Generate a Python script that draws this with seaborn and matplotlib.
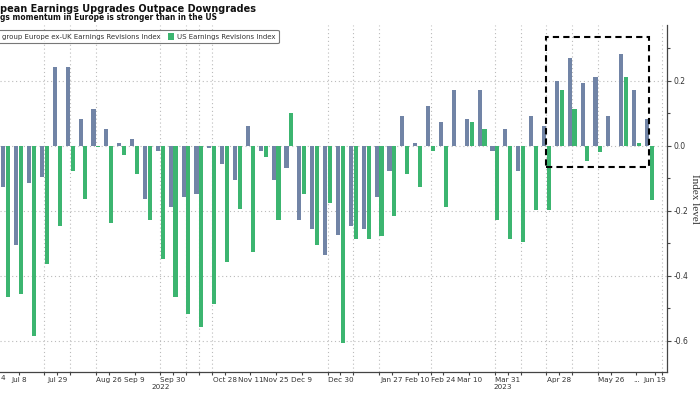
import numpy as np
import pandas as pd
import matplotlib
matplotlib.use("Agg")
import matplotlib.pyplot as plt
import matplotlib.transforms as mtransforms
from matplotlib.patches import Rectangle
import seaborn as sns

# ── Data (weekly from 1 Jul 2022) ────────────────────────────────────────────
weeks = pd.date_range("2022-07-01", periods=51, freq="7D")

europe = [
    -0.126, -0.306, -0.116, -0.095, 0.241, 0.241, 0.081, 0.112, 0.052, 0.010,
    0.022, -0.165, -0.016, -0.188, -0.157, -0.147, -0.006, -0.057, -0.106, 0.062,
    -0.016, -0.106, -0.067, -0.227, -0.256, -0.336, -0.276, -0.246, -0.256, -0.157,
    -0.077, 0.091, 0.010, 0.122, 0.072, 0.171, 0.081, 0.171, -0.016, 0.052,
    -0.077, 0.091, 0.062, 0.200, 0.271, 0.192, 0.211, 0.091, 0.281, 0.171,
    0.081,
]
us = [
    -0.465, -0.457, -0.586, -0.365, -0.246, -0.077, -0.165, -0.005, -0.237, -0.027,
    -0.087, -0.227, -0.347, -0.466, -0.518, -0.557, -0.487, -0.357, -0.196, -0.326,
    -0.036, -0.227, 0.102, -0.147, -0.306, -0.177, -0.606, -0.287, -0.287, -0.277,
    -0.216, -0.087, -0.126, -0.016, -0.188, 0.0, 0.072, 0.052, -0.227, -0.287,
    -0.295, -0.198, -0.198, 0.171, 0.112, -0.047, -0.018, 0.0, 0.211, 0.010,
    -0.167,
]

series_names = ["group Europe ex-UK Earnings Revisions Index", "US Earnings Revisions Index"]
colours = ["#7184A6", "#3CB570"]

tick_dates  = ["2022-07-08", "2022-07-29", "2022-08-26", "2022-09-09", "2022-09-30",
               "2022-10-28", "2022-11-11", "2022-11-25", "2022-12-09", "2022-12-30",
               "2023-01-27", "2023-02-10", "2023-02-24", "2023-03-10", "2023-03-31",
               "2023-04-28", "2023-05-26", "2023-06-09", "2023-06-19"]
tick_labels = ["Jul 8", "Jul 29", "Aug 26", "Sep 9", "Sep 30",
               "Oct 28", "Nov 11", "Nov 25", "Dec 9", "Dec 30",
               "Jan 27", "Feb 10", "Feb 24", "Mar 10", "Mar 31",
               "Apr 28", "May 26", "...", "Jun 19"]
grid_dates = ["2022-07-08", "2022-07-22", "2022-07-29", "2022-08-05", "2022-08-19",
              "2022-08-26", "2022-09-09", "2022-09-23", "2022-09-30", "2022-10-07",
              "2022-10-14", "2022-10-21", "2022-10-28", "2022-11-11", "2022-11-25",
              "2022-12-09", "2022-12-23", "2022-12-30", "2023-01-06", "2023-01-20",
              "2023-01-27", "2023-02-10", "2023-02-17", "2023-02-24", "2023-03-10",
              "2023-03-24", "2023-03-31", "2023-04-07", "2023-04-21", "2023-04-28",
              "2023-05-05", "2023-05-19", "2023-05-26", "2023-06-09", "2023-06-23"]

df = pd.DataFrame({
    "week": np.tile(weeks.strftime("%Y-%m-%d"), 2),
    "value": europe + us,
    "series": np.repeat(series_names, len(weeks)),
})

def pos(d):
    return (pd.Timestamp(d) - weeks[0]).days / 7

# ── Plot ──────────────────────────────────────────────────────────────────────
sns.set_style("white")
plt.rcParams["font.family"] = ["DejaVu Sans"]

fig = plt.figure(figsize=(7, 3.94), dpi=100)
ax = fig.add_axes([0, 0.055, 667 / 700, 0.881])

sns.barplot(data=df, x="week", y="value", hue="series", palette=colours,
            saturation=1, width=0.75, gap=0.15, linewidth=0, ax=ax)

ax.set_xlim(-0.45, 51.37)
ax.set_ylim(-0.697, 0.371)

# axes / spines
for s in ["left", "top"]:
    ax.spines[s].set_visible(False)
for s in ["right", "bottom"]:
    ax.spines[s].set_color("#444444")
    ax.spines[s].set_linewidth(0.9)

ax.yaxis.tick_right()
ax.yaxis.set_label_position("right")
ax.set_yticks([0.2, 0.0, -0.2, -0.4, -0.6])
ax.set_yticklabels(["0.2", "0.0", "-0.2", "-0.4", "-0.6"])
ax.set_yticks([0.3, 0.1, -0.1, -0.3, -0.5], minor=True)
ax.tick_params(axis="y", which="both", right=True, direction="out",
               length=3, width=0.8, color="#444444", labelsize=5.5, pad=1.5,
               labelcolor="#333333")
ax.tick_params(axis="y", which="minor", length=2)
ax.set_ylabel("Index level", family="Liberation Serif", fontsize=8,
              rotation=270, labelpad=8, color="#333333")

ax.set_xticks([pos(d) for d in tick_dates])
ax.set_xticklabels(tick_labels)
ax.set_xticks([pos(d) for d in grid_dates], minor=True)
ax.tick_params(axis="x", which="both", bottom=True, direction="out",
               length=2.5, width=0.8, color="#444444", labelsize=5.2, pad=1,
               labelcolor="#333333")
ax.set_xlabel("")

ax.grid(False)
ax.grid(axis="y", which="major", color="#bbbbbb", linestyle=(0, (1, 2.5)), linewidth=0.8)
ax.grid(axis="x", which="minor", color="#bbbbbb", linestyle=(0, (1, 2.5)), linewidth=0.8)
ax.set_axisbelow(True)

# year labels and the cut-off first label (only "4" of "Jun 24" is visible)
trans = mtransforms.blended_transform_factory(ax.transData, ax.transAxes)
ax.text(12, -0.042, "2022", transform=trans, ha="center", va="center",
        fontsize=5.2, color="#333333")
ax.text(38.6, -0.042, "2023", transform=trans, ha="center", va="center",
        fontsize=5.2, color="#333333")
fig.text(0.5 / 700, 1 - 377.5 / 394, "4", ha="left", va="center",
         fontsize=5.2, color="#333333")

# highlight box
box_x0, box_x1 = 41.95, 50.0
box_y0, box_y1 = -0.066, 0.335
ax.add_patch(Rectangle((box_x0, box_y0), box_x1 - box_x0, box_y1 - box_y0,
                       fill=False, edgecolor="black", linestyle=(0, (3, 2)),
                       linewidth=1.5, zorder=5))

# legend
sns.move_legend(ax, "upper left", bbox_to_anchor=(-14 / 700, 1 - 26.5 / 394),
                bbox_transform=fig.transFigure, ncol=2, title=None, frameon=True,
                fontsize=5.0, handlelength=1.0, handleheight=1.0, handletextpad=0.3,
                columnspacing=1.0, borderpad=0.5, fancybox=True)
leg = ax.get_legend()
leg.get_frame().set_edgecolor("#555555")
leg.get_frame().set_linewidth(0.8)
for t in leg.get_texts():
    t.set_color("#333333")

# titles
fig.text(0.0, 1 - 8.5 / 394, "pean Earnings Upgrades Outpace Downgrades",
         fontsize=7.0, fontweight="bold", ha="left", va="center", color="#111111")
fig.text(0.0, 1 - 18 / 394, "gs momentum in Europe is stronger than in the US",
         fontsize=5.45, fontweight="bold", ha="left", va="center", color="#111111")

fig.savefig("out.png", dpi=100)
